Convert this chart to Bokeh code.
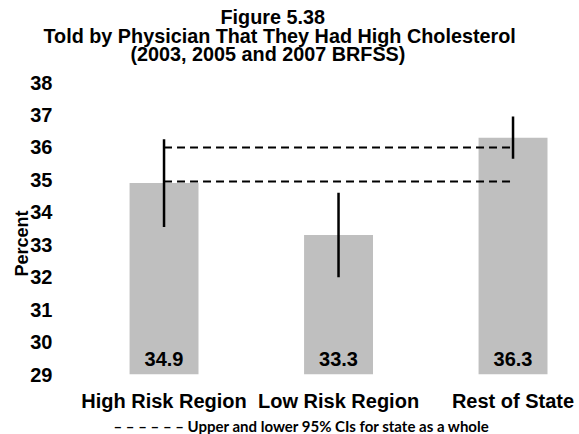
from bokeh.plotting import figure
from bokeh.models import ColumnDataSource, Range1d, FixedTicker, Title
from bokeh.core.properties import value
from bokeh.embed import file_html
from bokeh.resources import INLINE

# ---- data ----
categories = ["High Risk Region", "Low Risk Region", "Rest of State"]
percent = [34.9, 33.3, 36.3]
ci_lower = [33.55, 32.0, 35.65]
ci_upper = [36.25, 34.6, 36.95]
state_ci_lower = 34.95
state_ci_upper = 36.0
y_ticks = [29, 30, 31, 32, 33, 34, 35, 36, 37, 38]
title_lines = ["Figure 5.38",
               "Told by Physician That They Had High Cholesterol",
               "(2003, 2005 and 2007 BRFSS)"]
y_label = "Percent"
legend_text = "\u2013 \u2013 \u2013 \u2013 \u2013 \u2013 Upper and lower 95% CIs for state as a whole"

FONT = "Liberation Sans"
W, H = 579, 434
B_LEFT, B_RIGHT, B_TOP, B_BOTTOM = 70, 4, 82, 60

xs = list(range(len(categories)))
src = ColumnDataSource(dict(x=xs, top=percent, lo=ci_lower, hi=ci_upper,
                            base=[y_ticks[0]] * len(xs),
                            lab=[f"{v:.1f}" for v in percent]))

p = figure(width=W, height=H, output_backend="svg", toolbar_location=None,
           x_range=Range1d(-0.536, 2.358), y_range=Range1d(y_ticks[0], y_ticks[-1]),
           min_border_left=B_LEFT, min_border_right=B_RIGHT,
           min_border_top=B_TOP, min_border_bottom=B_BOTTOM,
           title=None)
p.outline_line_color = None
p.grid.visible = False
p.background_fill_color = "white"
p.border_fill_color = "white"

p.vbar(x="x", top="top", bottom="base", width=0.395, source=src,
       fill_color="#BFBFBF", line_color=None)

p.segment(x0=[xs[0], xs[0]], y0=[state_ci_upper, state_ci_lower],
          x1=[xs[-1], xs[-1]], y1=[state_ci_upper, state_ci_lower],
          line_color="black", line_width=2, line_dash="8 5")

p.segment(x0="x", y0="lo", x1="x", y1="hi", source=src,
          line_color="black", line_width=2.5)

p.text(x="x", y="base", text="lab", source=src, text_align="center",
       text_baseline="middle", y_offset=-16, text_font=value(FONT),
       text_font_style="bold", text_font_size="20px", text_color="black")

# axes
p.yaxis.ticker = FixedTicker(ticks=y_ticks)
p.yaxis.major_label_standoff = 12

p.xaxis.ticker = FixedTicker(ticks=xs)
p.xaxis.major_label_overrides = {i: c for i, c in zip(xs, categories)}
p.xaxis.major_label_standoff = 9

for ax in (p.xaxis, p.yaxis):
    ax.axis_line_color = None
    ax.major_tick_line_color = None
    ax.minor_tick_line_color = None
    ax.major_label_text_font = FONT
    ax.major_label_text_font_style = "bold"
    ax.major_label_text_font_size = "20px"
    ax.major_label_text_color = "black"

# y axis title (rotated, on the left)
p.add_layout(Title(text=y_label, align="left", offset=98, standoff=-9,
                   text_font=FONT, text_font_style="bold", text_font_size="18px",
                   text_color="black"), "left")

# chart title: panels stack outward from the plot frame
title_style = dict(text_font=FONT, text_font_style="bold",
                   text_font_size="19.8px", text_color="black", align="left")
p.add_layout(Title(text=" ", offset=0, standoff=-6.4, **title_style), "above")
for line, off, so in [(title_lines[2], 60, 0),
                      (title_lines[1], -27, -12.2),
                      (title_lines[0], 150, 2)]:
    p.add_layout(Title(text=line, offset=off, standoff=so, **title_style), "above")

p.add_layout(Title(text=legend_text, align="left", offset=43, standoff=0,
                   text_font="Lato", text_font_style="bold",
                   text_font_size="15px", text_color="black"), "below")

open("out.html", "w").write(file_html(p, INLINE))
